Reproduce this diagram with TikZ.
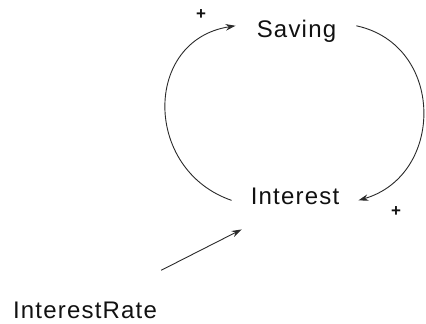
\documentclass[tikz,border=0pt]{standalone}
\usepackage{fontspec}
\setmainfont{Liberation Sans}
\newfontfamily\lblfont[LetterSpace=5]{Liberation Sans}
\usetikzlibrary{arrows.meta,calc}
\definecolor{ink}{HTML}{111111}
\definecolor{wire}{HTML}{2a2a2a}
\tikzset{
  varlabel/.style={font=\lblfont\fontsize{24}{28}\selectfont, text=ink, inner sep=0pt, anchor=base},
  polarity/.style={font=\bfseries\fontsize{17}{18}\selectfont, text=ink, inner sep=0pt},
  link/.style={draw=wire, line width=0.9pt, -{Stealth[length=10pt,width=6.5pt]}}
}
\begin{document}
\begin{tikzpicture}[x=1pt,y=-1pt]
\useasboundingbox (0,0) rectangle (426,324);
\node[varlabel] (saving) at (296.5,37) {Saving};
\node[varlabel] (interest) at (295,204) {Interest};
\node[varlabel] (rate) at (85,318) {InterestRate};
\node[polarity] (p1) at (201,15) {+};
\node[polarity] (p2) at (396,212) {+};
\draw[link] ($(interest.west)+(-19pt,-4.5pt)$) .. controls (143,170) and (143,40) .. ($(saving.west)+(-21pt,5pt)$);
\draw[link] ($(saving.east)+(20pt,5pt)$) .. controls (445,45) and (445,175) .. ($(interest.east)+(19pt,-4.5pt)$);
\draw[link] ($(rate.north east)+(4pt,31pt)$) -- ($(interest.south west)+(-9pt,-25pt)$);
\end{tikzpicture}
\end{document}
